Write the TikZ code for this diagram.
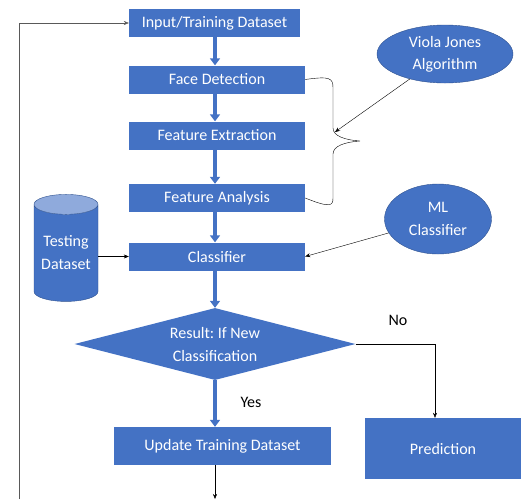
\documentclass[tikz,border=0pt]{standalone}
\usepackage{fontspec}
\setmainfont{Carlito}
\usetikzlibrary{shapes.geometric,arrows.meta}
\definecolor{boxblue}{HTML}{4472C4}
\definecolor{topblue}{HTML}{8FAADC}
\definecolor{edgeblue}{HTML}{2F528F}

\begin{document}
\frenchspacing
\begin{tikzpicture}[x=1pt, y=-1pt, font=\fontsize{16}{23}\selectfont]
        \tikzset{
            stepbox/.style={fill=boxblue, text=white, minimum height=28pt, inner sep=0pt},
            algo/.style={ellipse, fill=boxblue, draw=edgeblue, text=white, align=center, inner sep=0pt},
            flow/.style={boxblue, line width=4pt, -{Triangle[length=7pt, width=10pt]}},
            link/.style={black, -{Stealth[length=5pt, width=4pt]}}
        }
        \useasboundingbox (0,0) rectangle (521,499);
        \coordinate (spine) at (215,0);
        % main column
        \node[stepbox, minimum width=171pt] (input) at (214.5,23) {Input/Training Dataset};
        \node[stepbox, minimum width=176pt] (face) at (217,79.5) {Face Detection};
        \node[stepbox, minimum width=176pt] (extract) at (217,135.5) {Feature Extraction};
        \node[stepbox, minimum width=176pt] (analysis) at (217,198) {Feature Analysis};
        \node[stepbox, minimum width=176pt] (classifier) at (217,256.5) {Classifier};
        \node[diamond, fill=boxblue, text=white, align=center, inner sep=0pt,
              aspect=3.9, minimum width=281pt, minimum height=72pt] (result) at (215,344)
              {Result: If New\\Classification};
        \node[stepbox, minimum width=217pt, minimum height=38pt] (update) at (222.5,446) {Update Training Dataset};
        \node[stepbox, minimum width=156pt, minimum height=61pt] (predict) at (443,448.5) {Prediction};
        % side nodes
        \node[algo, minimum width=136pt, minimum height=58pt] (viola) at (445,54) {Viola Jones\\[-1pt]Algorithm};
        \node[algo, minimum width=107pt, minimum height=70pt] (ml) at (438,219) {ML\\Classifier};
        \node[cylinder, shape border rotate=90, aspect=0.4, draw=edgeblue,
              cylinder uses custom fill, cylinder body fill=boxblue, cylinder end fill=topblue,
              text=white, align=center, inner sep=0pt,
              minimum width=64pt, minimum height=107pt] (testing) at (66,253) {Testing\\Dataset};
        % brace round the three steps
        \draw (face.east) .. controls (330,76) and (333,78) .. (333,88) -- (333,128)
              .. controls (333,136) and (345,140) .. (360,141)
              .. controls (345,142) and (333,146) .. (333,154) -- (333,198)
              .. controls (333,206) and (330,208) .. (analysis.east);
        \coordinate (bracetip) at (335,132);
        % thick flow arrows
        \draw[flow] (input.south -| spine) -- (face.north -| spine);
        \draw[flow] (face.south -| spine) -- (extract.north -| spine);
        \draw[flow] (extract.south -| spine) -- (analysis.north -| spine);
        \draw[flow] (analysis.south -| spine) -- (classifier.north -| spine);
        \draw[flow] (classifier.south -| spine) -- (result.north);
        \draw[flow] (result.south) -- (update.north -| spine);
        \node (yes) at (251,402) {Yes};
        \node (no) at (398,320) {No};
        % thin connectors
        \draw[link] (viola) -- (bracetip);
        \draw[link] (ml) -- (classifier.east);
        \draw[link] (testing.east |- classifier) -- (classifier.west);
        \draw[link] (result.east) -| ([xshift=-8pt]predict.north);
        \coordinate (out) at (215,499);
        \draw[link] (update.south -| spine) -- (out);
        \coordinate (loop) at (19,499);
        \draw[link, gray!70!black] (loop) |- (input.west);
    \end{tikzpicture}
\end{document}
